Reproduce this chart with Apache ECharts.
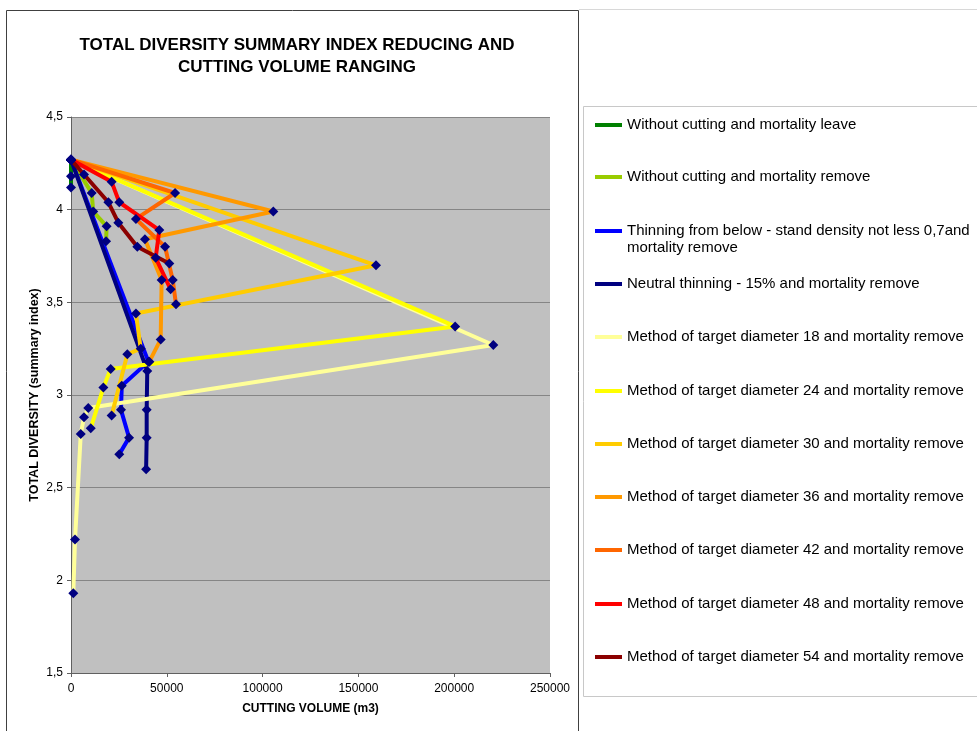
<!DOCTYPE html>
<html>
<head>
<meta charset="utf-8">
<script src="https://cdn.jsdelivr.net/npm/echarts@6/dist/echarts.min.js"></script>
<style>
  html, body { margin: 0; padding: 0; background: #ffffff; }
  #chart { width: 977px; height: 731px; }
</style>
</head>
<body>
<div id="chart"></div>
<script>
// Cutting scenarios, in legend order
const seriesNames = [
  'Without cutting and mortality leave',
  'Without cutting and mortality remove',
  'Thinning from below - stand density not less 0,7and mortality remove',
  'Neutral thinning - 15% and mortality remove',
  'Method of target diameter 18 and mortality remove',
  'Method of target diameter 24 and mortality remove',
  'Method of target diameter 30 and mortality remove',
  'Method of target diameter 36 and mortality remove',
  'Method of target diameter 42 and mortality remove',
  'Method of target diameter 48 and mortality remove',
  'Method of target diameter 54 and mortality remove'
];
const seriesColors = [
  '#008000', '#99cc00', '#0000ff', '#000080', '#ffff99', '#ffff00',
  '#ffcc00', '#ff9900', '#ff6600', '#ff0000', '#8b0000'
];

// Cutting volume (m3) and total diversity index, point by point
const leaveX = [0, 0, 0];
const leaveY = [4.27, 4.18, 4.12];
const removeX = [0, 10800, 11600, 18600, 18300];
const removeY = [4.27, 4.09, 3.99, 3.91, 3.83];
const belowX = [0, 40400, 26500, 26100, 30300, 25200];
const belowY = [4.27, 3.18, 3.05, 2.92, 2.77, 2.68];
const neutralX = [0, 39800, 39500, 39500, 39200];
const neutralY = [4.27, 3.13, 2.92, 2.77, 2.60];
const d18X = [0, 220400, 9000, 6800, 5100, 2100, 1200];
const d18Y = [4.27, 3.27, 2.93, 2.88, 2.79, 2.22, 1.93];
const d24X = [0, 200500, 20700, 16900, 10300];
const d24Y = [4.27, 3.37, 3.14, 3.04, 2.82];
const d30X = [0, 159200, 33900, 36400, 29400, 21200];
const d30Y = [4.27, 3.70, 3.44, 3.25, 3.22, 2.89];
const d36X = [0, 105600, 38600, 47300, 46800, 40900];
const d36Y = [4.27, 3.99, 3.84, 3.62, 3.30, 3.18];
const d42X = [0, 54300, 33900, 49100, 53100, 54800];
const d42Y = [4.27, 4.09, 3.95, 3.80, 3.62, 3.49];
const d48X = [0, 21200, 25200, 46100, 44200, 52000];
const d48Y = [4.27, 4.15, 4.04, 3.89, 3.74, 3.57];
const d54X = [0, 6800, 19500, 24700, 34600, 51300];
const d54Y = [4.27, 4.19, 4.04, 3.93, 3.80, 3.71];

// Axis ranges and ticks
const xMin = 0, xMax = 250000, xStep = 50000;
const yMin = 1.5, yMax = 4.5, yStep = 0.5;

const titleLines = ['TOTAL DIVERSITY SUMMARY INDEX REDUCING AND', 'CUTTING VOLUME RANGING'];
const xTitle = 'CUTTING VOLUME (m3)';
const yTitle = 'TOTAL DIVERSITY (summary index)';

const allX = [leaveX, removeX, belowX, neutralX, d18X, d24X, d30X, d36X, d42X, d48X, d54X];
const allY = [leaveY, removeY, belowY, neutralY, d18Y, d24Y, d30Y, d36Y, d42Y, d48Y, d54Y];

const FONT = '"Liberation Sans", Arial, sans-serif';

const series = seriesNames.map((name, i) => ({
  name: name,
  type: 'line',
  data: allX[i].map((x, k) => [x, allY[i][k]]),
  symbol: 'diamond',
  symbolSize: 10,
  showSymbol: true,
  lineStyle: { color: seriesColors[i], width: 4 },
  itemStyle: { color: '#000080', borderWidth: 0 },
  emphasis: { disabled: true },
  animation: false
}));

// One legend block per entry so every row sits on its own slot.
// The wrapped entry gets a leading blank line so its first line sits level with the swatch.
const legendRows = [125, 177, 231, 284, 337, 391, 444, 497, 550, 604, 657];
const legends = seriesNames.map((name, i) => {
  const wrapped = i === 2;
  return {
    data: [{ name: name, itemStyle: { color: seriesColors[i], borderWidth: 0 } }],
    left: 595,
    top: legendRows[i] - (wrapped ? 25.5 : 8.5),
    padding: 0,
    icon: 'rect',
    itemWidth: 27,
    itemHeight: 4,
    selectedMode: false,
    formatter: wrapped ? (n => ' \n' + n.replace(' mortality', '\nmortality')) : '{name}',
    textStyle: { fontFamily: FONT, fontSize: 15, color: '#000000', lineHeight: 17 }
  };
});

const chart = echarts.init(document.getElementById('chart'), null, { renderer: 'canvas' });
chart.setOption({
  backgroundColor: '#ffffff',
  animation: false,
  textStyle: { fontFamily: FONT },
  grid: {
    left: 71, top: 117, width: 479, height: 556,
    show: true, backgroundColor: '#c0c0c0', borderColor: '#a0a0a0', borderWidth: 0,
    containLabel: false
  },
  xAxis: {
    type: 'value', min: xMin, max: xMax, interval: xStep,
    name: xTitle, nameLocation: 'middle', nameGap: 30,
    nameTextStyle: { fontFamily: FONT, fontSize: 12, fontWeight: 'bold', color: '#000' },
    axisLine: { show: true, onZero: false, lineStyle: { color: '#606060', width: 1 } },
    axisTick: { show: true, length: 4, lineStyle: { color: '#606060' } },
    axisLabel: { fontFamily: FONT, fontSize: 12, color: '#000', margin: 10, formatter: v => String(v) },
    splitLine: { show: false }
  },
  yAxis: {
    type: 'value', min: yMin, max: yMax, interval: yStep,
    name: yTitle, nameLocation: 'middle', nameGap: 30, nameRotate: 90,
    nameTextStyle: { fontFamily: FONT, fontSize: 12.5, fontWeight: 'bold', color: '#000' },
    axisLine: { show: true, lineStyle: { color: '#606060', width: 1 } },
    axisTick: { show: true, length: 4, lineStyle: { color: '#606060' } },
    axisLabel: {
      fontFamily: FONT, fontSize: 12, color: '#000', margin: 8,
      formatter: v => String(v).replace('.', ',')
    },
    splitLine: { show: true, lineStyle: { color: '#858585', width: 1 } }
  },
  legend: legends,
  graphic: [
    // chart frame
    { type: 'polyline', silent: true, z: 0,
      shape: { points: [[6.5, 740], [6.5, 10.5], [578.5, 10.5], [578.5, 740]] },
      style: { stroke: '#404040', lineWidth: 1, fill: null } },
    { type: 'line', silent: true, z: 0,
      shape: { x1: 579, y1: 9.5, x2: 977, y2: 9.5 },
      style: { stroke: '#d8d8d8', lineWidth: 1 } },
    // legend frame
    { type: 'rect', silent: true, z: 0,
      shape: { x: 583.5, y: 106.5, width: 400, height: 590 },
      style: { stroke: '#c8c8c8', lineWidth: 1, fill: '#ffffff' } },
    // chart title
    { type: 'text', silent: true, x: 297, y: 45,
      style: { text: titleLines[0], font: 'bold 17px ' + FONT, fill: '#000', align: 'center', verticalAlign: 'middle' } },
    { type: 'text', silent: true, x: 297, y: 67,
      style: { text: titleLines[1], font: 'bold 17px ' + FONT, fill: '#000', align: 'center', verticalAlign: 'middle' } }
  ],
  series: series
});
</script>
</body>
</html>
